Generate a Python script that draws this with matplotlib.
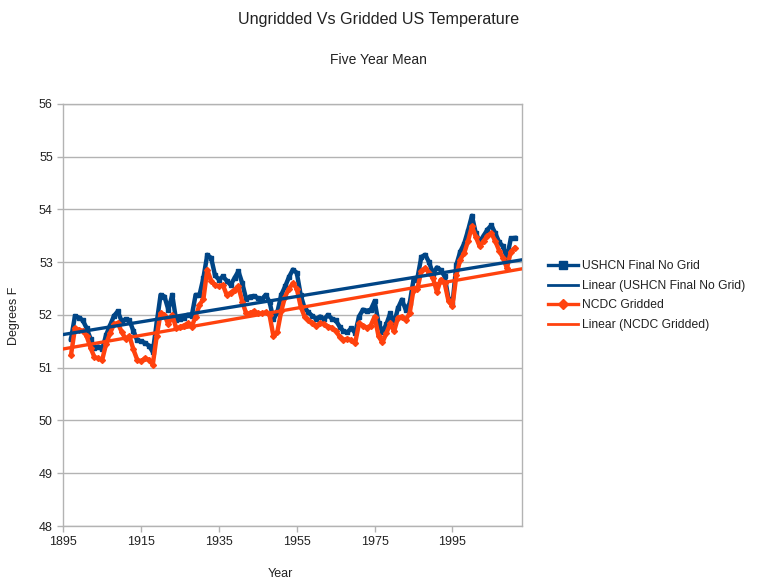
import numpy as np
import matplotlib
matplotlib.use("Agg")
import matplotlib.pyplot as plt
from matplotlib.lines import Line2D

plt.rcParams['font.family'] = ['Liberation Sans', 'DejaVu Sans']

# five year means, 1897..2011
years = list(range(1897, 2012))

ushcn = [51.55, 51.98, 51.95, 51.90, 51.75, 51.55, 51.38, 51.40, 51.35, 51.62,
         51.80, 51.98, 52.07, 51.88, 51.92, 51.90, 51.70, 51.52, 51.50, 51.47,
         51.42, 51.30, 51.85, 52.38, 52.35, 52.10, 52.38, 51.90, 51.92, 51.95,
         52.00, 51.98, 52.38, 52.38, 52.70, 53.14, 53.08, 52.75, 52.67, 52.73,
         52.65, 52.57, 52.70, 52.83, 52.60, 52.30, 52.35, 52.36, 52.32, 52.30,
         52.38, 52.25, 51.92, 52.05, 52.38, 52.54, 52.72, 52.86, 52.80, 52.38,
         52.13, 52.05, 51.98, 51.93, 51.97, 51.92, 52.00, 51.93, 51.90, 51.78,
         51.69, 51.67, 51.75, 51.66, 51.97, 52.10, 52.08, 52.10, 52.26, 51.85,
         51.68, 51.82, 52.03, 51.84, 52.13, 52.29, 52.10, 52.22, 52.67, 52.70,
         53.10, 53.14, 53.00, 52.78, 52.90, 52.85, 52.73, 52.30, 52.20, 52.95,
         53.20, 53.35, 53.60, 53.88, 53.55, 53.39, 53.50, 53.62, 53.70, 53.55,
         53.38, 53.30, 53.08, 53.45, 53.46]

ncdc = [51.25, 51.75, 51.72, 51.70, 51.60, 51.38, 51.20, 51.18, 51.15, 51.45,
        51.65, 51.82, 51.85, 51.68, 51.55, 51.60, 51.35, 51.15, 51.12, 51.18,
        51.15, 51.06, 51.60, 52.03, 52.00, 51.82, 52.00, 51.75, 51.77, 51.80,
        51.84, 51.78, 51.97, 52.19, 52.30, 52.86, 52.64, 52.57, 52.54, 52.57,
        52.38, 52.42, 52.48, 52.54, 52.25, 52.03, 52.03, 52.07, 52.03, 52.03,
        52.05, 52.00, 51.60, 51.68, 52.07, 52.35, 52.50, 52.60, 52.50, 52.16,
        51.97, 51.90, 51.85, 51.80, 51.84, 51.83, 51.78, 51.76, 51.70, 51.59,
        51.53, 51.55, 51.52, 51.47, 51.84, 51.80, 51.76, 51.80, 51.97, 51.60,
        51.48, 51.65, 51.84, 51.69, 51.95, 51.97, 51.91, 52.03, 52.48, 52.50,
        52.83, 52.89, 52.80, 52.70, 52.44, 52.67, 52.60, 52.26, 52.17, 52.75,
        53.05, 53.17, 53.40, 53.68, 53.48, 53.30, 53.40, 53.50, 53.55, 53.40,
        53.22, 53.08, 52.89, 53.20, 53.27]

x_ticks = [1895, 1915, 1935, 1955, 1975, 1995]
y_ticks = [48, 49, 50, 51, 52, 53, 54, 55, 56]

blue = "#004586"
orange = "#ff420e"
grey = "#b3b3b3"

fig = plt.figure(figsize=(7.57, 5.87), dpi=100)
ax = fig.add_axes([0.0836, 0.1039, 0.6056, 0.719])

xmin, xmax = 1895, 2012.8
xs = np.array([xmin, xmax])

ax.plot(years, ushcn, color=blue, lw=3.2, marker="s", ms=3, zorder=3)
ax.plot(years, ncdc, color=orange, lw=3.2, marker="D", ms=3, zorder=3)

# linear trend lines across the whole axis
pb = np.polyfit(years, ushcn, 1)
po = np.polyfit(years, ncdc, 1)
ax.plot(xs, np.polyval(pb, xs), color=blue, lw=2.4, zorder=4)
ax.plot(xs, np.polyval(po, xs), color=orange, lw=2.4, zorder=4)

ax.set_xlim(xmin, xmax)
ax.set_ylim(48, 56)
ax.set_xticks(x_ticks)
ax.set_yticks(y_ticks)
ax.yaxis.grid(True, color=grey, lw=1)
ax.set_axisbelow(True)
for s in ax.spines.values():
    s.set_color(grey)
    s.set_linewidth(1)
ax.tick_params(colors=grey, labelcolor="#222222", labelsize=9, length=4, width=1)

fig.text(0.5, 0.966, "Ungridded Vs Gridded US Temperature", ha="center", va="center",
         fontsize=11.6, color="#222222")
fig.text(0.5, 0.898, "Five Year Mean", ha="center", va="center", fontsize=10,
         color="#222222")
fig.text(0.371, 0.022, "Year", ha="center", va="center", fontsize=9, color="#222222")
fig.text(0.019, 0.462, "Degrees F", ha="center", va="center", rotation=90,
         fontsize=9, color="#222222")

handles = [
    Line2D([], [], color=blue, lw=2.4, marker="s", ms=6),
    Line2D([], [], color=blue, lw=2),
    Line2D([], [], color=orange, lw=2.4, marker="D", ms=5),
    Line2D([], [], color=orange, lw=2),
]
labels = ["USHCN Final No Grid", "Linear (USHCN Final No Grid)",
          "NCDC Gridded", "Linear (NCDC Gridded)"]
fig.legend(handles, labels, loc="upper left", bbox_to_anchor=(0.71, 0.575),
           frameon=False, fontsize=8.7, handlelength=2.45, handletextpad=0.3,
           labelspacing=0.62, labelcolor="#222222")

fig.savefig("out.png", dpi=100)
